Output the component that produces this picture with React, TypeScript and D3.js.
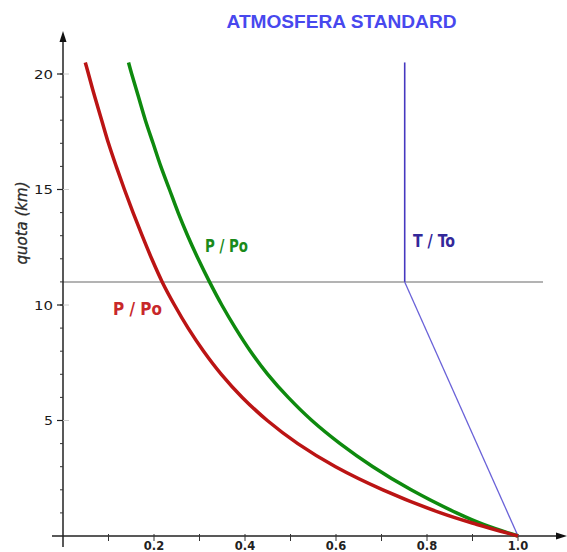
import React from "react";
import * as d3 from "d3";

// Altitude (km) and ratio readings for each curve
const pressureAltitude = [0, 0.5, 1, 2, 3, 4, 5, 6, 7, 8, 9, 10, 11, 12, 13, 14, 15, 16, 17, 18, 19, 20, 20.5];
const pressureRatio = [1.0, 0.91, 0.83, 0.703, 0.599, 0.516, 0.449, 0.394, 0.348, 0.309, 0.275, 0.245, 0.218, 0.195, 0.174, 0.154, 0.135, 0.117, 0.1, 0.085, 0.07, 0.056, 0.049];

const densityAltitude = [0, 0.5, 1, 2, 3, 4, 5, 6, 7, 8, 9, 10, 11, 12, 13, 14, 15, 16, 17, 18, 19, 20, 20.5];
const densityRatio = [1.0, 0.924, 0.865, 0.765, 0.681, 0.609, 0.547, 0.495, 0.45, 0.412, 0.379, 0.349, 0.322, 0.297, 0.274, 0.253, 0.234, 0.215, 0.198, 0.181, 0.166, 0.151, 0.144];

const temperatureAltitude = [0, 11, 20.5];
const temperatureRatio = [1.0, 0.751, 0.751];

const tropopauseAltitude = 11;

const yMajorTicks = [5, 10, 15, 20];
const yMinorTicks = d3.range(1, 21);
const xMinorTicks = d3.range(1, 11).map((d) => d / 10);
const xLabelTicks = [0.2, 0.4, 0.6, 0.8, 1.0];

const W = 567;
const H = 552;

export default function App() {
  const x = d3.scaleLinear().domain([0, 1]).range([63, 518]);
  const y = d3.scaleLinear().domain([0, 20]).range([536, 74]);

  const line = d3
    .line<[number, number]>()
    .x((d) => x(d[1]))
    .y((d) => y(d[0]));

  const smooth = d3.line<[number, number]>()
    .x((d) => x(d[1]))
    .y((d) => y(d[0]))
    .curve(d3.curveCatmullRom.alpha(0.5));

  const pressurePts: [number, number][] = pressureAltitude.map((h, i) => [h, pressureRatio[i]]);
  const densityPts: [number, number][] = densityAltitude.map((h, i) => [h, densityRatio[i]]);
  const tempPts: [number, number][] = temperatureAltitude.map((h, i) => [h, temperatureRatio[i]]);

  const x0 = x(0);
  const y0 = y(0);

  return (
    <svg
      width={W}
      height={H}
      style={{ position: "absolute", left: 0, top: 0, background: "#fff" }}
      xmlns="http://www.w3.org/2000/svg"
    >
      <rect x={0} y={0} width={W} height={H} fill="#fff" />
      {/* Title */}
      <text
        x={341.5}
        y={28}
        textAnchor="middle"
        fontFamily="'Liberation Sans', Arial, sans-serif"
        fontWeight="bold"
        fontSize={18.5}
        fill="#4848ee"
        textLength={230}
        lengthAdjust="spacingAndGlyphs"
      >
        ATMOSFERA STANDARD
      </text>

      {/* Tropopause line */}
      <line x1={x0} x2={543} y1={y(tropopauseAltitude)} y2={y(tropopauseAltitude)} stroke="#9a9a9a" strokeWidth={1.5} />

      {/* Y axis */}
      <line x1={x0} x2={x0} y1={547} y2={38} stroke="#222" strokeWidth={1.5} />
      <polygon points={`${x0},31 ${x0 - 3.5},42 ${x0 + 3.5},42`} fill="#111" />
      {yMinorTicks.map((t) => (
        <line key={"ym" + t} x1={x0 - 3} x2={x0} y1={y(t)} y2={y(t)} stroke="#333" strokeWidth={1} />
      ))}
      {yMajorTicks.map((t) => (
        <g key={"yM" + t}>
          <line x1={x0 - 6} x2={x0} y1={y(t)} y2={y(t)} stroke="#222" strokeWidth={1.2} />
          <line x1={x0} x2={x0 + 6} y1={y(t)} y2={y(t)} stroke="#ccc" strokeWidth={1} />
          <text
            x={53}
            y={y(t) + 4.5}
            textAnchor="end"
            fontFamily="'DejaVu Sans', sans-serif"
            fontSize={13}
            fill="#1a1a1a"
            textLength={t < 10 ? 9 : 19}
            lengthAdjust="spacingAndGlyphs"
          >
            {t}
          </text>
        </g>
      ))}

      {/* X axis */}
      <line x1={52} x2={560} y1={y0} y2={y0} stroke="#222" strokeWidth={1.5} />
      <polygon points={`567,${y0} 556,${y0 - 3.5} 556,${y0 + 3.5}`} fill="#111" />
      {xMinorTicks.map((t) => (
        <line key={"xm" + t} x1={x(t)} x2={x(t)} y1={y0 - 2} y2={y0 + 5} stroke="#333" strokeWidth={1} />
      ))}
      {xLabelTicks.map((t) => (
        <text
          key={"xl" + t}
          x={x(t)}
          y={550}
          textAnchor="middle"
          fontFamily="'DejaVu Sans', sans-serif"
          fontWeight="bold"
          fontSize={11.5}
          fill="#222"
        >
          {t.toFixed(1)}
        </text>
      ))}

      {/* Y axis label */}
      <text
        transform={`translate(27,223) rotate(-90)`}
        textAnchor="middle"
        fontFamily="'DejaVu Sans', sans-serif"
        fontStyle="italic"
        fontSize={15}
        fill="#2a2a2a"
        stroke="#2a2a2a"
        strokeWidth={0.3}
      >
        quota (km)
      </text>

      {/* Temperature */}
      <path d={line(tempPts.slice(0, 2)) || ""} fill="none" stroke="#6a62d8" strokeWidth={1.3} />
      <path d={line(tempPts.slice(1)) || ""} fill="none" stroke="#4638c0" strokeWidth={1.6} />

      {/* Density (green) */}
      <path d={smooth(densityPts) || ""} fill="none" stroke="#0e8a0e" strokeWidth={3.5} />
      {/* Pressure (red) */}
      <path d={smooth(pressurePts) || ""} fill="none" stroke="#bb1414" strokeWidth={3.5} />

      {/* Labels */}
      <text
        x={113}
        y={315}
        fontFamily="'DejaVu Sans Condensed', 'DejaVu Sans', sans-serif"
        fontWeight="bold"
        fontSize={18}
        fill="#c8282a"
        textLength={49}
        lengthAdjust="spacingAndGlyphs"
      >
        P / Po
      </text>
      <text
        x={205}
        y={252}
        fontFamily="'DejaVu Sans Condensed', 'DejaVu Sans', sans-serif"
        fontWeight="bold"
        fontSize={18}
        fill="#1a8a1a"
        textLength={43}
        lengthAdjust="spacingAndGlyphs"
      >
        P / Po
      </text>
      <text
        x={413}
        y={247}
        fontFamily="'DejaVu Sans Condensed', 'DejaVu Sans', sans-serif"
        fontWeight="bold"
        fontSize={18}
        fill="#33289a"
        textLength={42}
        lengthAdjust="spacingAndGlyphs"
      >
        T / To
      </text>
    </svg>
  );
}
